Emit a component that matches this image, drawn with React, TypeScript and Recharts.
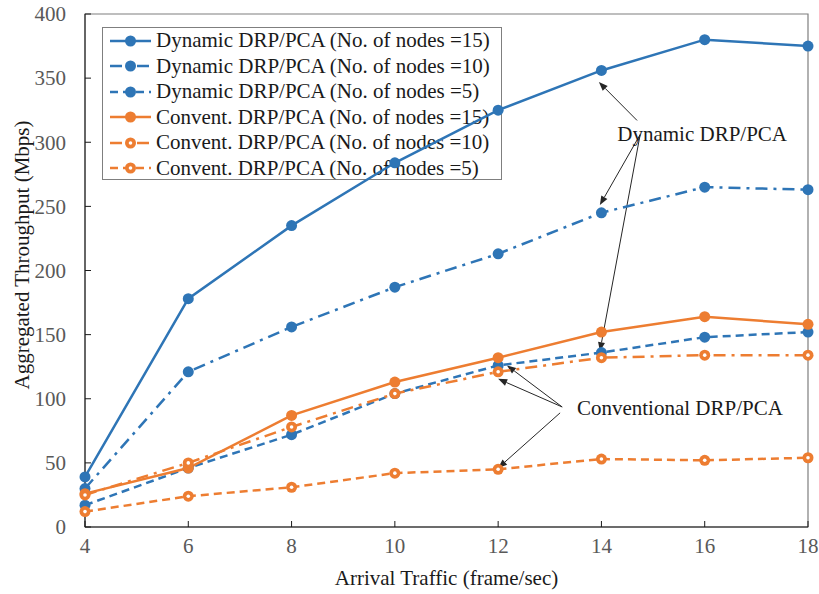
import { LineChart, Line, XAxis, YAxis, ReferenceLine, ReferenceArea, ReferenceDot } from "recharts";

const arrivalTraffic = [4, 6, 8, 10, 12, 14, 16, 18];
const dynamic15 = [39, 178, 235, 284, 325, 356, 380, 375];
const dynamic10 = [30, 121, 156, 187, 213, 245, 265, 263];
const dynamic5 = [17, 46, 72, 104, 126, 136, 148, 152];
const convent15 = [26, 46, 87, 113, 132, 152, 164, 158];
const convent10 = [25, 50, 78, 104, 121, 132, 134, 134];
const convent5 = [12, 24, 31, 42, 45, 53, 52, 54];

const xTicks = [4, 6, 8, 10, 12, 14, 16, 18];
const yTicks = [0, 50, 100, 150, 200, 250, 300, 350, 400];

const BLUE = "#2E75B6";
const ORANGE = "#ED7D31";
const FONT = "'Liberation Serif', 'Times New Roman', serif";

const series = [
  { key: "dyn15", name: "Dynamic DRP/PCA (No. of nodes =15)", values: dynamic15, color: BLUE, dash: undefined, hollow: false },
  { key: "dyn10", name: "Dynamic DRP/PCA (No. of nodes =10)", values: dynamic10, color: BLUE, dash: "12 6 3 6", hollow: false },
  { key: "dyn5", name: "Dynamic DRP/PCA (No. of nodes =5)", values: dynamic5, color: BLUE, dash: "8 5", hollow: false },
  { key: "conv15", name: "Convent. DRP/PCA (No. of nodes =15)", values: convent15, color: ORANGE, dash: undefined, hollow: false },
  { key: "conv10", name: "Convent. DRP/PCA (No. of nodes =10)", values: convent10, color: ORANGE, dash: "12 6 3 6", hollow: true },
  { key: "conv5", name: "Convent. DRP/PCA (No. of nodes =5)", values: convent5, color: ORANGE, dash: "8 5", hollow: true },
];

const data = arrivalTraffic.map((x, i) => {
  const row: Record<string, number> = { x };
  series.forEach((s) => (row[s.key] = s.values[i]));
  return row;
});

// annotation callouts (data coordinates)
const dynamicLabel = { x: 15.95, y: 307, text: "Dynamic DRP/PCA" };
const conventLabel = { x: 15.52, y: 93, text: "Conventional DRP/PCA" };
const arrows = [
  [{ x: 14.69, y: 317 }, { x: 13.95, y: 347 }],
  [{ x: 14.75, y: 306 }, { x: 13.97, y: 251 }],
  [{ x: 14.75, y: 306 }, { x: 13.97, y: 137 }],
  [{ x: 13.24, y: 93.6 }, { x: 12.17, y: 126 }],
  [{ x: 13.24, y: 93.6 }, { x: 12.0, y: 115.5 }],
  [{ x: 13.2, y: 89 }, { x: 12.0, y: 46 }],
];

const Arrow = (props: any) => {
  const { x1, y1, x2, y2 } = props;
  const a = Math.atan2(y2 - y1, x2 - x1);
  const len = 9;
  const w = 3.5;
  const bx = x2 - len * Math.cos(a);
  const by = y2 - len * Math.sin(a);
  const px = -Math.sin(a) * w;
  const py = Math.cos(a) * w;
  return (
    <g>
      <line x1={x1} y1={y1} x2={bx} y2={by} stroke="#262626" strokeWidth={1} />
      <polygon points={`${x2},${y2} ${bx + px},${by + py} ${bx - px},${by - py}`} fill="#262626" />
    </g>
  );
};

const makeDot = (color: string, hollow: boolean) => (props: any) => {
  const { cx, cy, index } = props;
  return (
    <g key={`d-${index}`}>
      <circle cx={cx} cy={cy} r={5.5} fill={color} />
      {hollow && <circle cx={cx} cy={cy} r={1.8} fill="#fff" />}
    </g>
  );
};

const AxisTick = (props: any) => {
  const { x, y, payload, textAnchor, verticalAnchor } = props;
  const dy = verticalAnchor === "start" ? "0.75em" : "0.35em";
  return (
    <text x={x} y={y} dy={dy} textAnchor={textAnchor} fontSize={21} fill="#595959" fontFamily={FONT}>
      {payload.value}
    </text>
  );
};

const LegendBox = () => (
  <div
    style={{
      position: "absolute",
      left: 102,
      top: 27,
      width: 400,
      height: 153,
      border: "1px solid #7f7f7f",
      boxSizing: "border-box",
      padding: "0 0 0 7px",
      fontFamily: FONT,
      fontSize: 21,
      lineHeight: "25.5px",
      color: "#1a1a1a",
    }}
  >
    {series.map((s) => (
      <div key={s.key} style={{ display: "flex", alignItems: "center", height: 25.5, whiteSpace: "nowrap" }}>
        <svg width={44} height={14} style={{ marginRight: 2 }}>
          <line x1={0} y1={7} x2={41} y2={7} stroke={s.color} strokeWidth={2.5} strokeDasharray={s.dash} />
          <circle cx={20.5} cy={7} r={5.5} fill={s.color} />
          {s.hollow && <circle cx={20.5} cy={7} r={1.8} fill="#fff" />}
        </svg>
        <span>{s.name}</span>
      </div>
    ))}
  </div>
);

export default function App() {
  return (
    <div style={{ position: "absolute", left: 0, top: 0, width: 819, height: 594, background: "#fff", fontFamily: FONT }}>
      <LegendBox />
      <LineChart width={819} height={594} data={data} margin={{ top: 14, right: 11, left: 0, bottom: 7 }}>
        <ReferenceArea x1={4} x2={18} y1={0} y2={400} fill="none" stroke="#7f7f7f" strokeWidth={1.2} ifOverflow="visible" />
        <XAxis
          dataKey="x"
          type="number"
          domain={[4, 18]}
          ticks={xTicks}
          height={60}
          tickSize={-6}
          tickMargin={16}
          stroke="#1a1a1a"
          tick={<AxisTick />}
          label={{ value: "Arrival Traffic (frame/sec)", position: "insideBottom", offset: 2, fontSize: 21, fill: "#1a1a1a", fontFamily: FONT }}
        />
        <YAxis
          type="number"
          domain={[0, 400]}
          ticks={yTicks}
          width={85}
          tickSize={-6}
          tickMargin={25}
          stroke="#1a1a1a"
          tick={<AxisTick />}
          label={{
            content: () => (
              <text
                x={22}
                y={255}
                transform="rotate(-90, 22, 255)"
                textAnchor="middle"
                dominantBaseline="central"
                fontSize={21}
                fill="#1a1a1a"
                fontFamily={FONT}
              >
                Aggregated Throughput (Mbps)
              </text>
            ),
          }}
        />
        {arrows.map((seg, i) => (
          <ReferenceLine key={`a${i}`} segment={seg} shape={Arrow} ifOverflow="visible" />
        ))}
        {[dynamicLabel, conventLabel].map((l) => (
          <ReferenceDot
            key={l.text}
            x={l.x}
            y={l.y}
            r={1}
            shape={() => <g />}
            label={{ value: l.text, position: "center", fontSize: 21, fill: "#1a1a1a", fontFamily: FONT }}
          />
        ))}
        {series.map((s) => (
          <Line
            key={s.key}
            dataKey={s.key}
            name={s.name}
            stroke={s.color}
            strokeWidth={2.5}
            strokeDasharray={s.dash}
            dot={makeDot(s.color, s.hollow)}
            activeDot={false}
            isAnimationActive={false}
          />
        ))}
      </LineChart>
    </div>
  );
}
